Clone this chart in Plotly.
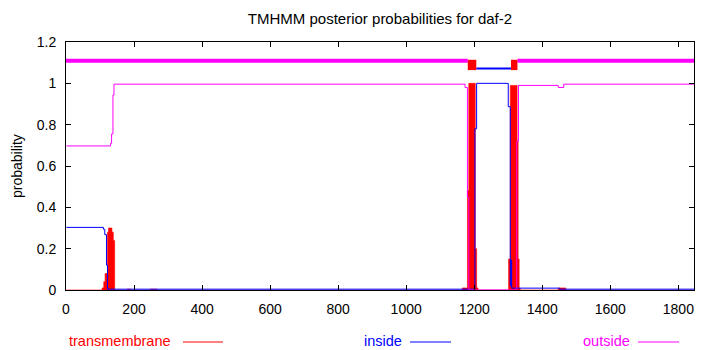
import plotly.graph_objects as go

# ---------------- data ----------------
seq_length = 1846

# posterior probabilities, given as segment start residue -> value
tm_start = [1, 106, 111, 115, 122, 125, 135, 139, 143, 180, 191, 247, 267,
            1165, 1180, 1184, 1203, 1207, 1211, 1301, 1306, 1326, 1329, 1332,
            1335, 1447, 1469]
tm_prob = [0.0, 0.01, 0.04, 0.08, 0.28, 0.30, 0.28, 0.24, 0.0, 0.004, 0.0, 0.004, 0.0,
           0.01, 0.48, 1.0, 0.2, 0.01, 0.0, 0.15, 0.99, 0.72, 0.15, 0.01,
           0.0, 0.01, 0.0]

inside_start = [1, 110, 114, 119, 122, 1202, 1207, 1300, 1306, 1308, 1310, 1451]
inside_prob = [0.303, 0.294, 0.268, 0.12, 0.004, 0.78, 1.0, 0.887, 0.02, 0.145, 0.009, 0.004]

outside_start = [1, 131, 134, 138, 141, 1173, 1180, 1184, 1325, 1330, 1447, 1463]
outside_prob = [0.697, 0.71, 0.755, 0.943, 0.996, 0.98, 0.45, 0.0, 0.72, 0.99, 0.98, 0.996]

# predicted topology (top track)
topo_label = ["outside", "TMhelix", "inside", "TMhelix", "outside"]
topo_from = [1, 1182, 1207, 1309, 1328]
topo_to = [1181, 1206, 1308, 1327, 1846]

x_ticks = [0, 200, 400, 600, 800, 1000, 1200, 1400, 1600, 1800]
y_ticks = [0, 0.2, 0.4, 0.6, 0.8, 1.0, 1.2]

title_text = "TMHMM posterior probabilities for daf-2"
legend_names = ["transmembrane", "inside", "outside"]

# ---------------- styling ----------------
RED, BLUE, MAG = "#ff0000", "#0000ff", "#ff00ff"
FONT = "Liberation Sans, Arial, sans-serif"
W, H = 710, 350
ML, MR, MT, MB = 66, 16, 42, 60
PW, PH = W - ML - MR, H - MT - MB


def steps(starts, vals):
    return starts + [seq_length], vals + [vals[-1]]


fig = go.Figure()

x, y = steps(tm_start, tm_prob)
fig.add_trace(go.Scatter(x=x, y=y, mode="lines", line=dict(color=RED, width=0.6, shape="hv"),
                         fill="tozeroy", fillcolor=RED, showlegend=False))
x, y = steps(inside_start, inside_prob)
fig.add_trace(go.Scatter(x=x, y=y, mode="lines", line=dict(color=BLUE, width=1, shape="hv"),
                         showlegend=False))
x, y = steps(outside_start, outside_prob)
fig.add_trace(go.Scatter(x=x, y=y, mode="lines", line=dict(color=MAG, width=1, shape="hv"),
                         showlegend=False))

# top topology track
for lab, a, b in zip(topo_label, topo_from, topo_to):
    if lab == "outside":
        fig.add_shape(type="line", xref="x", yref="y", x0=a - 1, x1=b, y0=1.109, y1=1.109,
                      line=dict(color=MAG, width=4))
    elif lab == "inside":
        fig.add_shape(type="line", xref="x", yref="y", x0=a - 1, x1=b, y0=1.072, y1=1.072,
                      line=dict(color=BLUE, width=2))
for lab, a, b in zip(topo_label, topo_from, topo_to):
    if lab == "TMhelix":
        fig.add_shape(type="rect", xref="x", yref="y", x0=a - 1, x1=b, y0=1.064, y1=1.114,
                      line=dict(width=0), fillcolor=RED)

# legend (gnuplot style: text followed by a line sample)
leg_text_x = [68, 362.5, 582]
leg_line_x = [(183, 223), (410, 451), (638, 679)]
leg_cols = [RED, BLUE, MAG]
leg_text_y = -(341 - (MT + PH)) / PH
leg_line_y = -(342 - (MT + PH)) / PH
for name, tx, (l0, l1), c in zip(legend_names, leg_text_x, leg_line_x, leg_cols):
    fig.add_annotation(text=name, xref="paper", yref="paper", x=(tx - ML) / PW, y=leg_text_y,
                       xanchor="left", yanchor="middle", showarrow=False, borderpad=0,
                       font=dict(family=FONT, size=14.5, color=c))
    fig.add_shape(type="line", xref="paper", yref="paper", x0=(l0 - ML) / PW, x1=(l1 - ML) / PW,
                  y0=leg_line_y, y1=leg_line_y, line=dict(color=c, width=1))

# y axis label
fig.add_annotation(text="probability", xref="paper", yref="paper", x=(17 - ML) / PW, y=0.5,
                   textangle=-90, xanchor="center", yanchor="middle", showarrow=False,
                   font=dict(family=FONT, size=14, color="black"))

axis_common = dict(showline=True, linecolor="black", linewidth=1, mirror="ticks",
                   ticks="inside", ticklen=5, tickcolor="black", tickwidth=1,
                   showgrid=False, zeroline=False,
                   tickfont=dict(family=FONT, size=14, color="black"))

fig.update_layout(
    width=W, height=H,
    margin=dict(l=ML, r=MR, t=MT, b=MB, pad=0),
    paper_bgcolor="white", plot_bgcolor="white",
    title=dict(text=title_text, x=(380) / W, xanchor="center", y=1 - 19 / H, yanchor="middle",
               yref="container", font=dict(family=FONT, size=15, color="black")),
    xaxis=dict(range=[0, seq_length], tickvals=x_ticks, ticklabelstandoff=6, **axis_common),
    yaxis=dict(range=[0, 1.2], tickvals=y_ticks, ticklabelstandoff=6, **axis_common),
    showlegend=False,
)

fig.write_html("out.html")
